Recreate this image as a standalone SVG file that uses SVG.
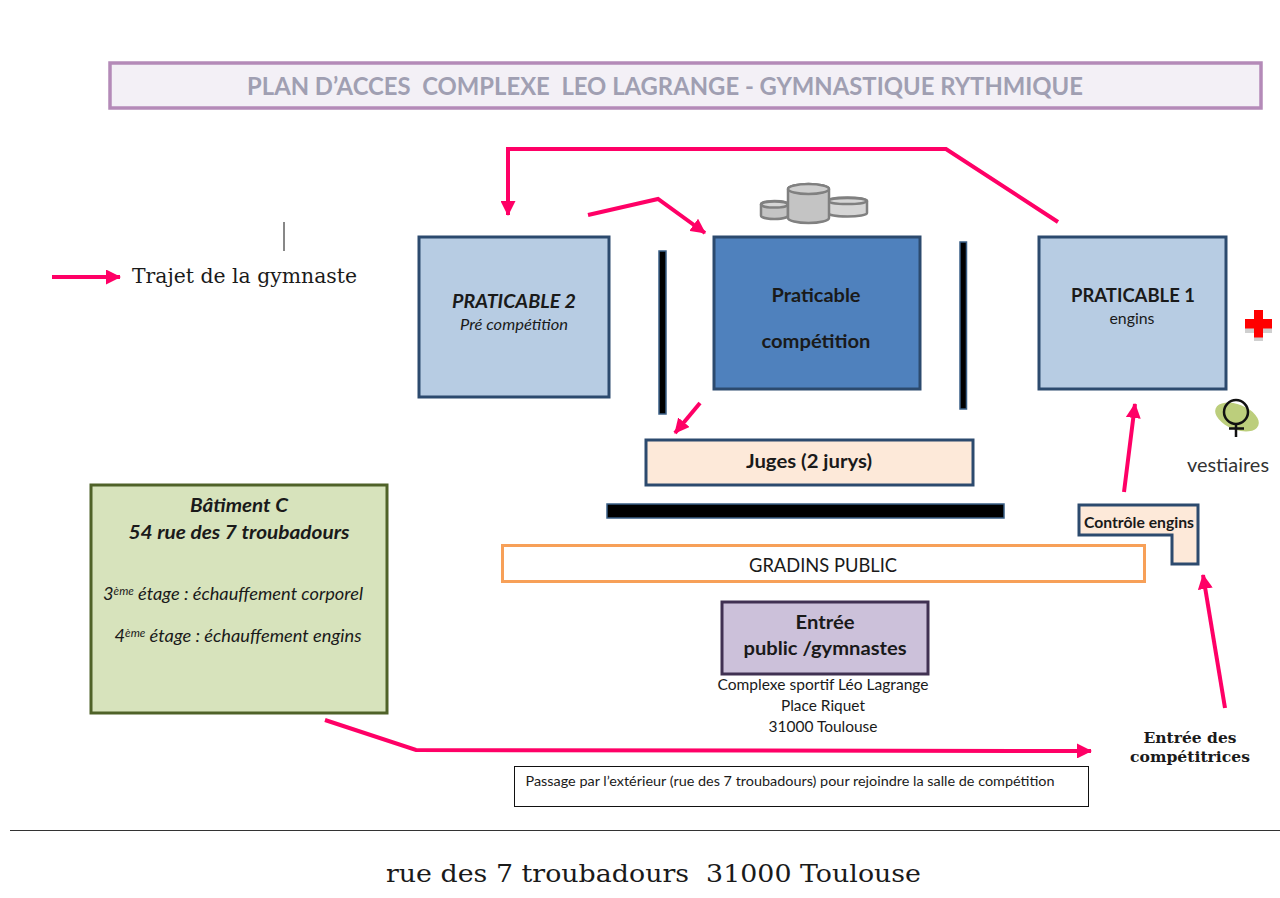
<svg xmlns="http://www.w3.org/2000/svg" width="1280" height="898" viewBox="0 0 1280 898">
<style>
text{font-family:Lato,"Open Sans",sans-serif;fill:#1a1a1a;text-anchor:middle}
.b{font-weight:700}.i{font-style:italic}
.se{font-family:"DejaVu Serif",serif;text-anchor:start}
.box{stroke:#2c4a6e;stroke-width:3}
.bar{fill:#000;stroke:#3a5f86;stroke-width:1.5}
.a{fill:none;stroke:#ff0066;stroke-width:4;stroke-linejoin:miter}
.can{fill:#c4c4c4;stroke:#808080;stroke-width:2.5}
.can2{fill:#d6d6d6;stroke:#808080;stroke-width:2.5}
</style>
<defs>
<marker id="ah" markerUnits="userSpaceOnUse" markerWidth="15" markerHeight="15" refX="14" refY="7.5" orient="auto"><path d="M0 0L15 7.500L0 15z" fill="#ff0066"/></marker>
</defs>
<rect width="1280" height="898" fill="#fff"/>
<g id="title"><rect x="110" y="63" width="1151" height="45" fill="#f3f0f6" stroke="#b48ab8" stroke-width="3.5"/>
<text x="665" y="95" class="b" font-size="24.5" style="fill:#a09fb2" textLength="836" lengthAdjust="spacingAndGlyphs" xml:space="preserve">PLAN D’ACCES  COMPLEXE  LEO LAGRANGE - GYMNASTIQUE RYTHMIQUE</text></g>
<g id="connectors">
<path class="a" marker-end="url(#ah)" d="M1058 222L946 149H508V215"/>
<path class="a" marker-end="url(#ah)" d="M588 215L658 199L705 233"/>
<path class="a" marker-end="url(#ah)" d="M700 403L675 433"/>
<path class="a" marker-end="url(#ah)" d="M1124 492L1135 404"/>
<path class="a" marker-end="url(#ah)" d="M1225 708L1203 575"/>
<path class="a" marker-end="url(#ah)" d="M325 720L416 750L1091 751"/>
<path class="a" marker-end="url(#ah)" d="M52 277H120"/>
</g>
<g id="legend"><path d="M284 222V251" stroke="#111" stroke-width="1"/><text x="132" y="283" class="se" font-size="20" textLength="225" lengthAdjust="spacingAndGlyphs">Trajet de la gymnaste</text></g>
<g id="cans">
<path class="can" d="M761 204.500a13.500 3.500 0 0 1 27 0v11a13.500 3.500 0 0 1-27 0z"/>
<ellipse cx="774.500" cy="204.500" rx="13.500" ry="3" class="can2"/>
<path class="can2" d="M828 201a19.500 3.500 0 0 1 39 0v12a19.500 3.500 0 0 1-39 0z"/>
<ellipse cx="847.500" cy="201" rx="19.500" ry="3" class="can2"/>
<path class="can" d="M788 189a20.500 5 0 0 1 41 0v29a20.500 5 0 0 1-41 0z"/>
<ellipse cx="808.500" cy="189" rx="20.500" ry="5" fill="#cfcfcf" stroke="#808080" stroke-width="2.500"/>
</g>
<g id="praticable2"><rect class="box" x="419" y="237" width="190" height="160" fill="#b7cce3"/>
<text x="514" y="308" class="b i" font-size="19" textLength="124" lengthAdjust="spacingAndGlyphs">PRATICABLE 2</text><text x="514" y="330" class="i" font-size="15" textLength="108" lengthAdjust="spacingAndGlyphs">Pré compétition</text></g>
<g id="competition"><rect class="box" x="714" y="237" width="206" height="152" fill="#4f81bd"/>
<text x="816" y="302" class="b" font-size="19" textLength="89" lengthAdjust="spacingAndGlyphs">Praticable</text><text x="816" y="348" class="b" font-size="19" textLength="109" lengthAdjust="spacingAndGlyphs">compétition</text></g>
<g id="praticable1"><rect class="box" x="1039" y="237" width="187" height="152" fill="#b7cce3"/>
<text x="1133" y="302" class="b" font-size="19" textLength="124" lengthAdjust="spacingAndGlyphs">PRATICABLE 1</text><text x="1132" y="324" font-size="15" textLength="45" lengthAdjust="spacingAndGlyphs">engins</text></g>
<g id="bars"><rect class="bar" x="659" y="251" width="7" height="163"/><rect class="bar" x="960" y="242" width="6.500" height="167"/><rect class="bar" x="607" y="504" width="397" height="14"/></g>
<g id="juges"><rect class="box" x="646" y="440" width="327" height="45" fill="#fde9d9"/><text x="809" y="468" class="b" font-size="19" textLength="126" lengthAdjust="spacingAndGlyphs">Juges (2 jurys)</text></g>
<g id="controle"><path class="box" d="M1079 505H1198V564H1172V535H1079z" fill="#fde9d9"/><text x="1139" y="528" class="b" font-size="15.500" textLength="110" lengthAdjust="spacingAndGlyphs">Contrôle engins</text></g>
<g id="gradins"><rect x="502.500" y="545.500" width="642" height="36" fill="#fff" stroke="#f79646" stroke-width="3" opacity=".9"/><text x="823" y="572" font-size="19" textLength="148" lengthAdjust="spacingAndGlyphs">GRADINS PUBLIC</text></g>
<g id="entree"><rect x="722" y="602" width="206" height="72" fill="#ccc1da" stroke="#403152" stroke-width="3"/>
<text x="825" y="629" class="b" font-size="19.500" textLength="59" lengthAdjust="spacingAndGlyphs">Entrée</text><text x="825" y="655" class="b" font-size="19.500" textLength="163" lengthAdjust="spacingAndGlyphs">public /gymnastes</text>
<text x="823" y="690" font-size="15" textLength="211" lengthAdjust="spacingAndGlyphs">Complexe sportif Léo Lagrange</text><text x="823" y="711" font-size="15" textLength="84" lengthAdjust="spacingAndGlyphs">Place Riquet</text><text x="823" y="732" font-size="15" textLength="109" lengthAdjust="spacingAndGlyphs">31000 Toulouse</text></g>
<g id="batiment"><rect x="91" y="485" width="296" height="228" fill="#d7e3bc" stroke="#4f6228" stroke-width="3"/>
<text x="239" y="512" class="b i" font-size="19" textLength="98" lengthAdjust="spacingAndGlyphs">Bâtiment C</text><text x="239" y="539" class="b i" font-size="19" textLength="221" lengthAdjust="spacingAndGlyphs">54 rue des 7 troubadours</text>
<text x="233" y="600" class="i" font-size="16.500" textLength="260" lengthAdjust="spacingAndGlyphs">3<tspan font-size="10.500" dy="-5">ème</tspan><tspan dy="5"> étage : échauffement corporel</tspan></text>
<text x="238" y="642" class="i" font-size="16.500" textLength="247" lengthAdjust="spacingAndGlyphs">4<tspan font-size="10.500" dy="-5">ème</tspan><tspan dy="5"> étage : échauffement engins</tspan></text></g>
<g id="medical"><path d="M1254 313h9v8h9v10h-9v8h-9v-8h-9v-10h9z" fill="#cfcfcf" transform="translate(0 2)"/><path d="M1254 310h9v9h9v9.500h-9v9h-9v-9h-9v-9.500h9z" fill="#ff0000"/></g>
<g id="vestiaires"><ellipse cx="1237" cy="417" rx="23" ry="12.500" transform="rotate(22 1237 417)" fill="#bcce7c"/>
<circle cx="1236" cy="412" r="12" fill="none" stroke="#111" stroke-width="2.500"/><path d="M1236 424V437M1229 428.500H1244" stroke="#111" stroke-width="2.500"/>
<text x="1228" y="472" font-size="19" style="fill:#333" textLength="82" lengthAdjust="spacingAndGlyphs">vestiaires</text></g>
<g id="entree-comp"><text x="1190" y="743" class="b" font-size="15" style="font-family:'DejaVu Serif',serif" textLength="93" lengthAdjust="spacingAndGlyphs">Entrée des</text><text x="1190" y="762" class="b" font-size="15" style="font-family:'DejaVu Serif',serif" textLength="120" lengthAdjust="spacingAndGlyphs">compétitrices</text></g>
<g id="passage"><rect x="514.500" y="766.500" width="574" height="40" fill="#fff" stroke="#111" stroke-width="1"/><text x="790" y="786" font-size="13.500" textLength="529" lengthAdjust="spacingAndGlyphs">Passage par l’extérieur (rue des 7 troubadours) pour rejoindre la salle de compétition</text></g>
<g id="rue"><path d="M10 830.500H1280" stroke="#333" stroke-width="1"/><text x="386" y="882" class="se" font-size="24.500" textLength="535" lengthAdjust="spacingAndGlyphs" xml:space="preserve">rue des 7 troubadours  31000 Toulouse</text></g>
</svg>
